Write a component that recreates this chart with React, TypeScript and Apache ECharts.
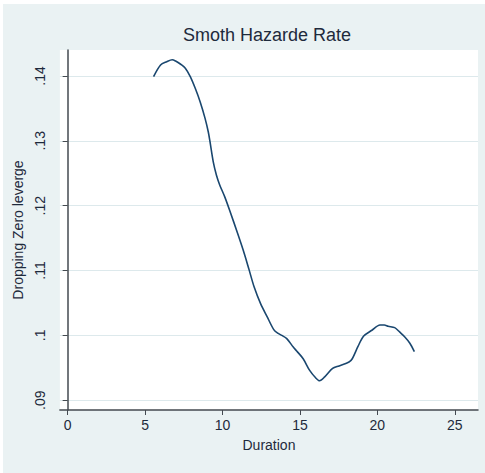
import React, { useEffect, useRef } from "react";
import * as echarts from "echarts";

const durations = [
  5.55, 6.0, 6.4, 6.75, 6.97, 7.3, 7.6, 7.92, 8.24, 8.56, 8.87, 9.08, 9.19, 9.4, 9.61,
  9.82, 10.14, 10.46, 10.98, 11.41, 11.72, 12.04, 12.46, 12.88, 13.31, 13.6, 13.83,
  14.15, 14.57, 14.79, 15.21, 15.63, 16.0, 16.27, 16.6, 17.11, 17.53, 18.17, 18.38,
  18.75, 19.12, 19.65, 20.17, 20.45, 20.7, 21.12, 21.45, 21.76, 22.1, 22.39,
];
const hazard = [
  0.1399, 0.1417, 0.1422, 0.1425, 0.1423, 0.1418, 0.1412, 0.1399, 0.1381, 0.136,
  0.1335, 0.1314, 0.1299, 0.1268, 0.1247, 0.1232, 0.1214, 0.1193, 0.1157, 0.1126,
  0.1101, 0.1075, 0.1049, 0.1029, 0.1009, 0.1003, 0.1, 0.0995, 0.0982, 0.0976,
  0.0964, 0.0946, 0.0935, 0.093, 0.0936, 0.0949, 0.0953, 0.0959, 0.0964, 0.0983,
  0.0999, 0.1008, 0.1016, 0.1016, 0.1014, 0.1012, 0.1005, 0.0998, 0.0988, 0.0975,
];
const xTicks = [0, 5, 10, 15, 20, 25];
const yTicks = [0.09, 0.1, 0.11, 0.12, 0.13, 0.14];
const titleText = "Smoth Hazarde Rate";
const xName = "Duration";
const yName = "Dropping Zero leverge";

const FONT = "'Liberation Sans Narrow', 'Liberation Sans', Arial, sans-serif";
const TEXT = "#1e2a3c";
const AXIS = "#444a50";

export default function App() {
  const ref = useRef<HTMLDivElement>(null);
  useEffect(() => {
    if (!ref.current) return;
    const chart = echarts.init(ref.current, null, { renderer: "svg" });
    chart.setOption({
      animation: false,
      backgroundColor: "#eaf2f3",
      title: {
        text: titleText,
        left: 259,
        top: 17,
        textAlign: "center",
        textStyle: { fontFamily: FONT, fontSize: 18, fontWeight: "normal", color: TEXT },
      },
      grid: { left: 49, right: 7, top: 46, bottom: 63, show: true, backgroundColor: "#ffffff", borderWidth: 0 },
      xAxis: {
        type: "value",
        min: -0.5,
        max: 26.5,
        name: xName,
        nameLocation: "middle",
        nameGap: 28,
        nameTextStyle: { fontFamily: FONT, fontSize: 14, color: TEXT },
        axisLine: { show: true, lineStyle: { color: AXIS, width: 1.5 } },
        axisTick: { show: true, customValues: xTicks, length: 5, lineStyle: { color: AXIS } },
        axisLabel: {
          customValues: xTicks,
          margin: 8,
          fontFamily: FONT,
          fontSize: 14,
          color: TEXT,
        },
        splitLine: { show: false },
      },
      yAxis: {
        type: "value",
        min: 0.0885,
        max: 0.144,
        name: yName,
        nameLocation: "middle",
        nameRotate: 90,
        nameGap: 32,
        nameTextStyle: { fontFamily: FONT, fontSize: 14, color: TEXT },
        axisLine: { show: true, lineStyle: { color: AXIS, width: 1.5 } },
        axisTick: { show: true, customValues: yTicks, length: 5, lineStyle: { color: AXIS } },
        axisLabel: {
          customValues: yTicks,
          rotate: 90,
          margin: 13,
          fontFamily: FONT,
          fontSize: 14,
          color: TEXT,
          formatter: (v: number) => String(+v.toFixed(2)).replace(/^0/, ""),
        },
        splitLine: { show: true, lineStyle: { color: "#dde9ec", width: 1 } },
      },
      series: [
        {
          type: "line",
          data: durations.map((d, i) => [d, hazard[i]]),
          showSymbol: false,
          smooth: 0.3,
          lineStyle: { color: "#1a476f", width: 1.6 },
        },
      ],
    });
    return () => chart.dispose();
  }, []);
  return (
    <div style={{ position: "fixed", left: 0, top: 0, width: 485, height: 473, background: "#ffffff" }}>
      <div ref={ref} style={{ position: "absolute", left: 3, top: 4, width: 482, height: 469 }} />
    </div>
  );
}
